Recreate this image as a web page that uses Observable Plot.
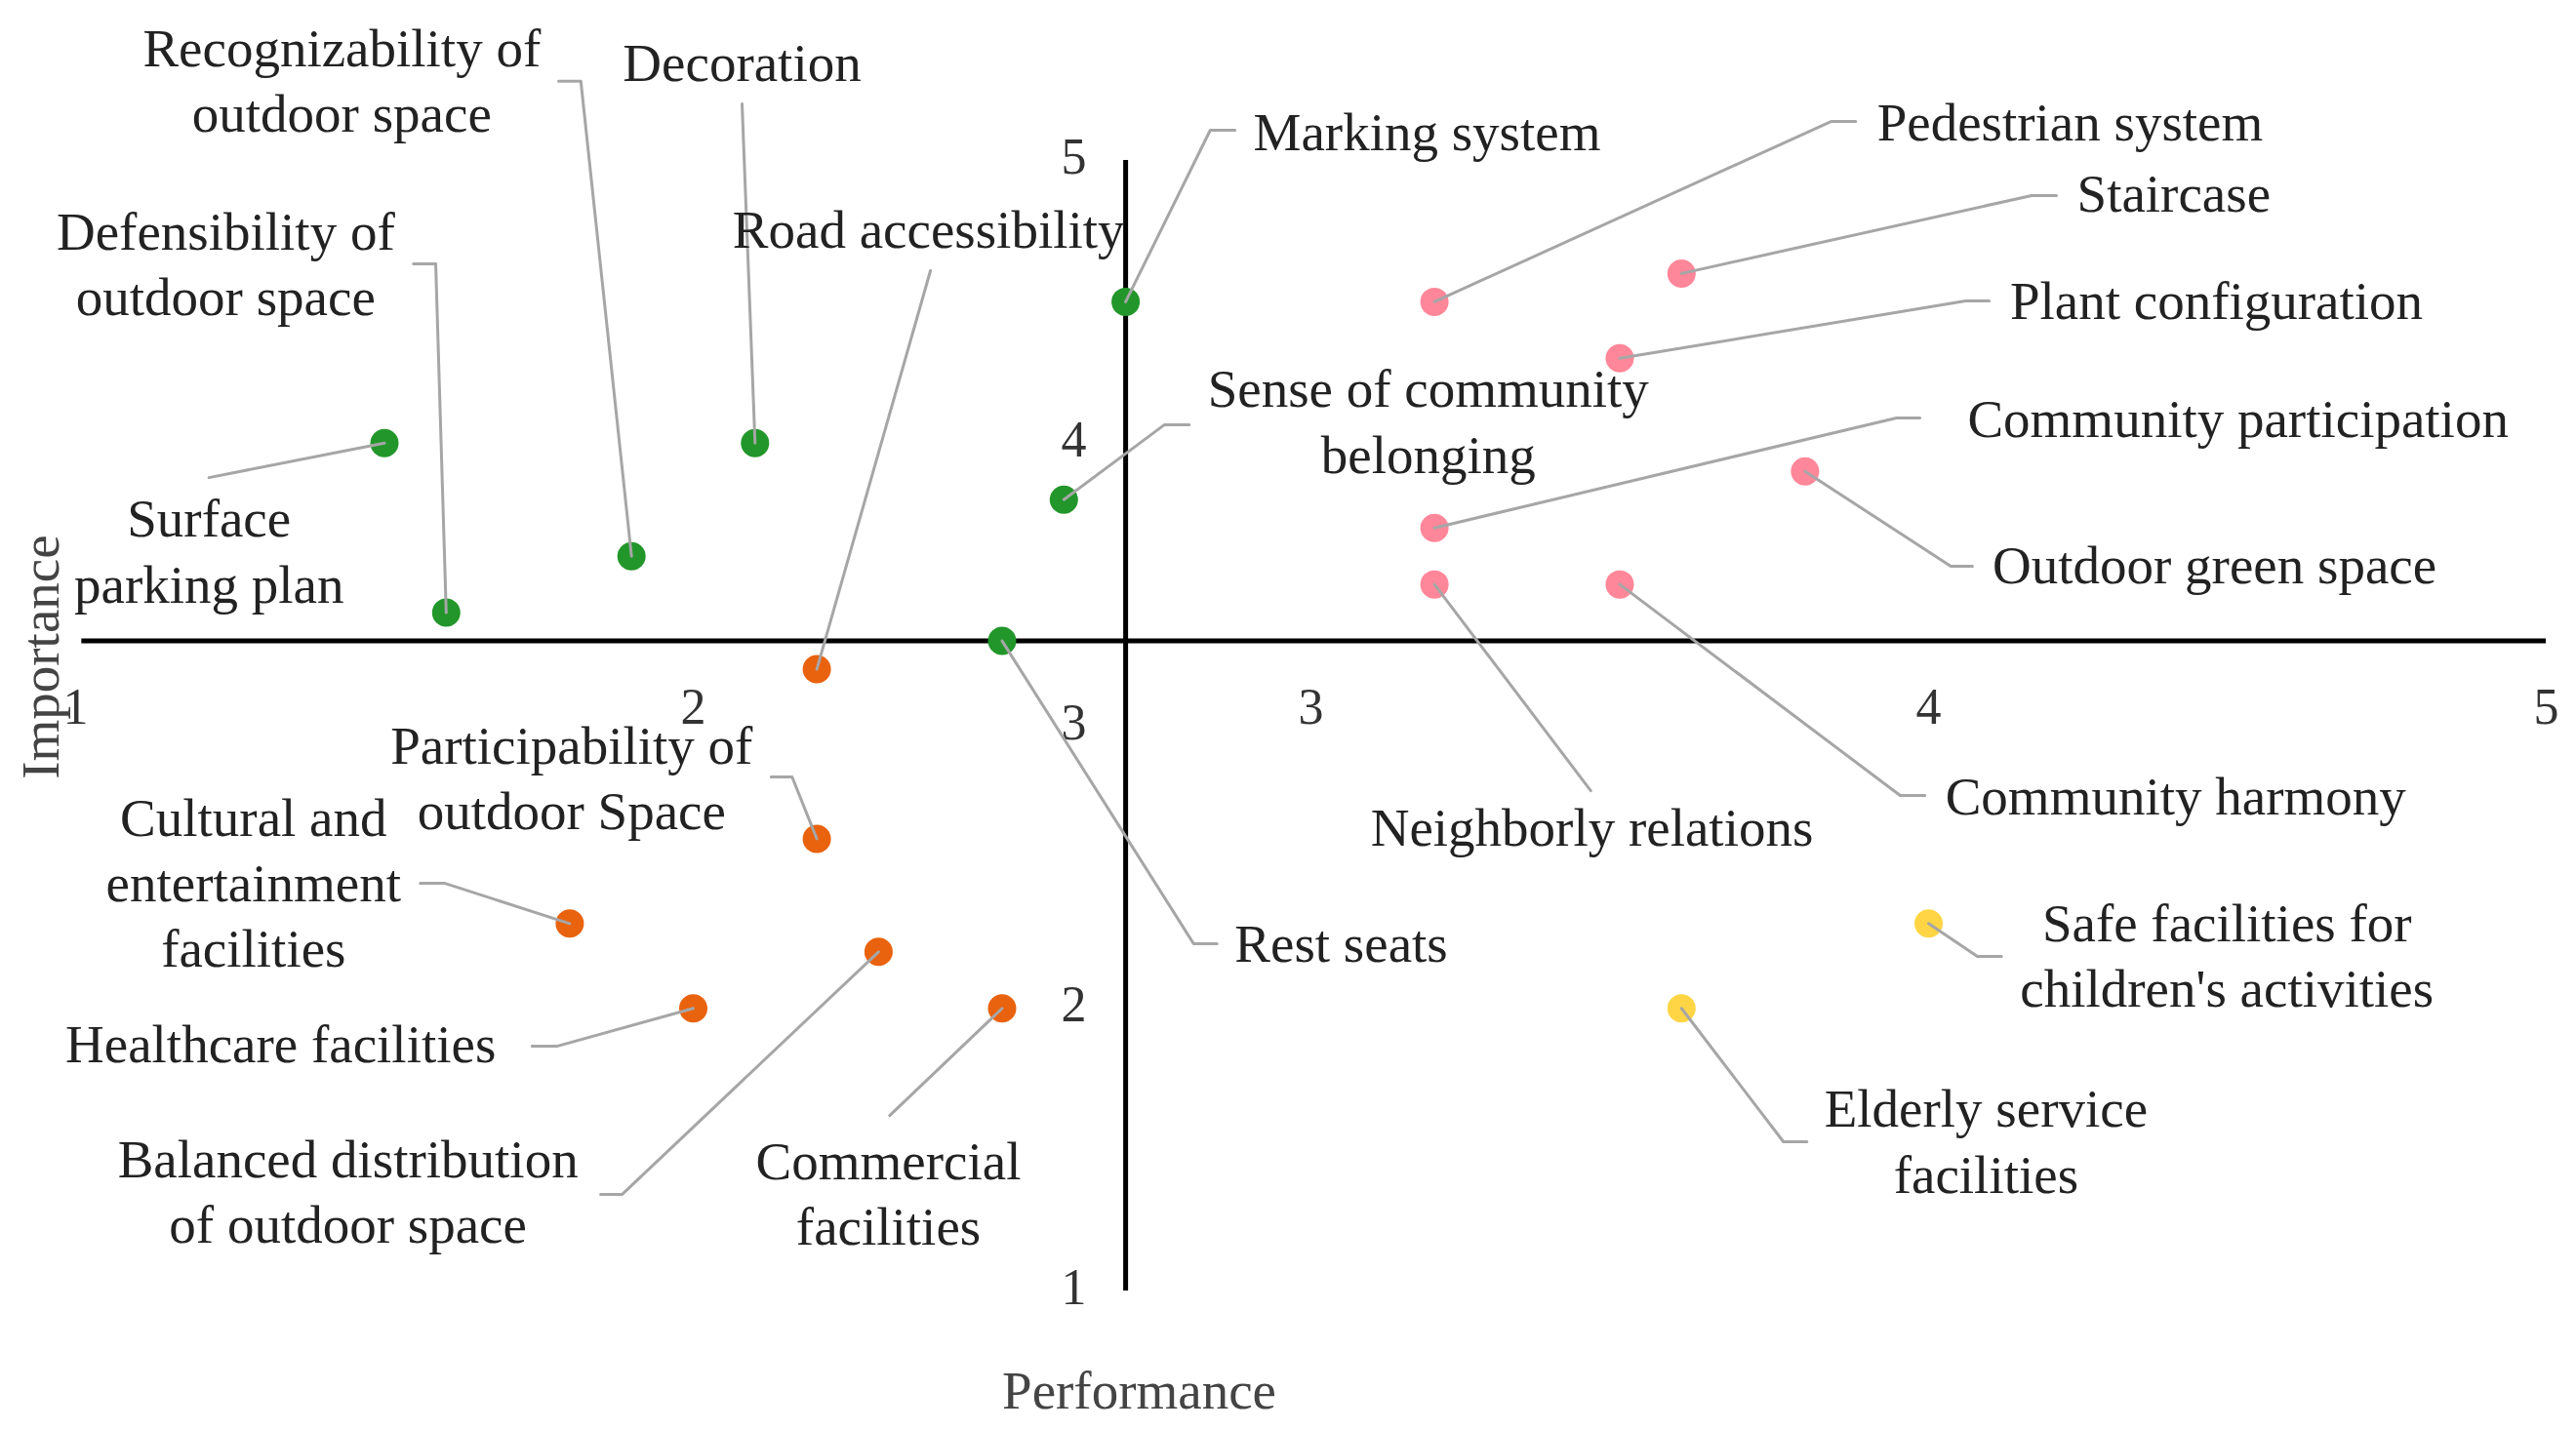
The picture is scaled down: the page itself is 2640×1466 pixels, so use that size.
<!DOCTYPE html>
<html>
<head>
<meta charset="utf-8">
<script src="https://cdn.jsdelivr.net/npm/d3@7"></script>
<script src="https://cdn.jsdelivr.net/npm/@observablehq/plot@0.6"></script>
<style>
  html, body { margin: 0; padding: 0; background: #ffffff; }
  svg { display: block; }
</style>
</head>
<body>
<div id="chart"></div>
<script>
// ---- Data ----
const labels = [
  "Surface\nparking plan", "Decoration", "Recognizability of\noutdoor space",
  "Defensibility of\noutdoor space", "Marking system", "Sense of community\nbelonging",
  "Rest seats", "Road accessibility", "Participability of\noutdoor Space",
  "Cultural and\nentertainment\nfacilities", "Healthcare facilities",
  "Balanced distribution\nof outdoor space", "Commercial\nfacilities",
  "Pedestrian system", "Staircase", "Plant configuration", "Community participation",
  "Outdoor green space", "Neighborly relations", "Community harmony",
  "Safe facilities for\nchildren's activities", "Elderly service\nfacilities"
];
const performance = [1.5, 2.1, 1.9, 1.6, 2.7, 2.6, 2.5, 2.2, 2.2, 1.8, 2.0, 2.3, 2.5,
                     3.2, 3.6, 3.5, 3.2, 3.8, 3.2, 3.5, 4.0, 3.6];
const importance  = [4.0, 4.0, 3.6, 3.4, 4.5, 3.8, 3.3, 3.2, 2.6, 2.3, 2.0, 2.2, 2.0,
                     4.5, 4.6, 4.3, 3.7, 3.9, 3.5, 3.5, 2.3, 2.0];
const quadrant    = ["II","II","II","II","II","II","II","III","III","III","III","III","III",
                     "I","I","I","I","I","I","I","IV","IV"];
const quadrantNames = ["I", "II", "III", "IV"];
const quadrantColors = ["#ff8799", "#22962a", "#e9620d", "#ffd545"];

// annotation anchors (data units)
const labelX = [1.216, 2.079, 1.431, 1.243, 3.188, 3.190, 3.049, 2.381, 1.803, 1.288, 1.332,
                1.441, 2.316, 4.229, 4.397, 4.466, 4.501, 4.463, 3.455, 4.400, 4.483, 4.093];
const labelY = [3.609, 5.338, 5.273, 4.627, 5.093, 4.068, 2.222, 4.748, 2.808, 2.436, 1.866,
                1.342, 1.338, 5.128, 4.876, 4.496, 4.079, 3.561, 2.632, 2.743, 2.177, 1.521];
const elbowX = [1.216, 2.079, 1.818, 1.583, 2.837, 2.763, 2.810, 2.384, 2.160, 1.597, 1.779,
                1.885, 2.318, 3.842, 4.167, 4.060, 3.948, 4.036, 3.453, 3.954, 4.079, 3.765];
const elbowY = [3.878, 5.200, 5.280, 4.634, 5.107, 4.065, 2.229, 4.610, 2.819, 2.443, 1.866,
                1.342, 1.621, 5.138, 4.876, 4.503, 4.089, 3.564, 2.770, 2.753, 2.184, 1.528];
const endX   = [1.216, 2.079, 1.782, 1.547, 2.877, 2.803, 2.848, 2.384, 2.126, 1.558, 1.739,
                1.850, 2.318, 3.882, 4.207, 4.098, 3.986, 4.071, 3.453, 3.994, 4.118, 3.803];
const endY   = elbowY;

const axisTicks = [1, 2, 3, 4, 5];
const meanPerformance = 2.7;
const meanImportance = 3.3;

// ---- Build tables ----
const points = labels.map((name, i) => ({
  name, performance: performance[i], importance: importance[i], quadrant: quadrant[i],
  lx: labelX[i], ly: labelY[i]
}));
const leaders = labels.flatMap((name, i) => [
  {name, x: performance[i], y: importance[i]},
  {name, x: elbowX[i], y: elbowY[i]},
  {name, x: endX[i], y: endY[i]}
]);

const font = "Liberation Serif, Times New Roman, serif";

const chart = Plot.plot({
  width: 2640,
  height: 1466,
  marginLeft: 77,
  marginRight: 31,
  marginTop: 164,
  marginBottom: 143,
  style: {fontFamily: font, background: "#ffffff"},
  x: {domain: [1, 5], axis: null},
  y: {domain: [1, 5], axis: null},
  color: {domain: quadrantNames, range: quadrantColors},
  marks: [
    Plot.ruleY([meanImportance], {x1: 1.01, x2: 5, stroke: "#000", strokeWidth: 5}),
    Plot.ruleX([meanPerformance], {y1: 1, y2: 5, stroke: "#000", strokeWidth: 5}),
    Plot.text(axisTicks, {x: d => d, y: meanImportance, dy: 68, text: d => String(d),
      fontSize: 52, fill: "#333", fontFamily: font}),
    Plot.text(axisTicks, {x: meanPerformance, y: d => d, dx: -40, dy: -3, text: d => String(d),
      textAnchor: "end", fontSize: 52, fill: "#333", fontFamily: font}),
    Plot.dot(points, {x: "performance", y: "importance", r: 14.5, fill: "quadrant", stroke: "none"}),
    Plot.line(leaders, {x: "x", y: "y", z: "name", stroke: "#a6a6a6", strokeWidth: 3, curve: "linear"}),
    Plot.text(points, {x: "lx", y: "ly", dy: -5, text: "name", fontSize: 55, lineHeight: 1.22,
      lineAnchor: "middle", textAnchor: "middle", fill: "#222", fontFamily: font}),
    Plot.text(["Performance"], {x: 2.722, y: 0.644, text: d => d, fontSize: 55,
      fill: "#444", fontFamily: font}),
    Plot.text(["Importance"], {x: 0.945, y: 3.243, text: d => d, rotate: -90, fontSize: 55,
      fill: "#444", fontFamily: font})
  ]
});

document.getElementById("chart").appendChild(chart);
</script>
</body>
</html>
